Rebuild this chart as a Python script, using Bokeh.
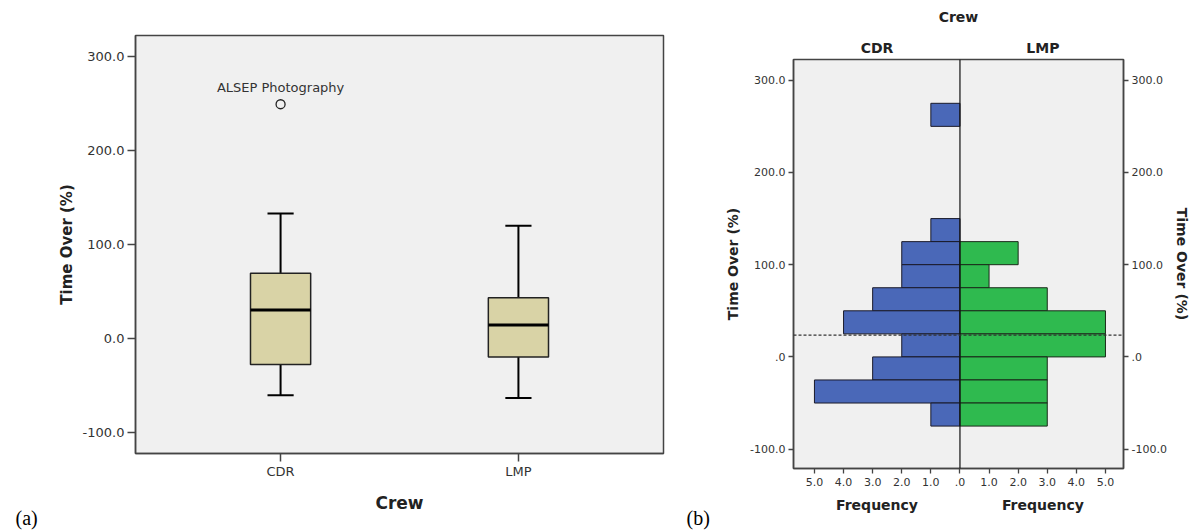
from bokeh.plotting import figure
from bokeh.models import LinearAxis, FixedTicker, Range1d, Label, Span, Spacer
from bokeh.layouts import row, column
from bokeh.embed import file_html
from bokeh.resources import INLINE

# ---------------- data ----------------
crew = ["CDR", "LMP"]
crew_pos = [1, 2]
q1 = [-27.5, -19.5]
median = [30.5, 14.5]
q3 = [69.5, 43.5]
whisk_lo = [-60.0, -63.0]
whisk_hi = [133.0, 120.0]
outlier_pos = [1]
outlier_val = [249.0]
outlier_label = ["ALSEP Photography"]

bin_width = 25
cdr_bin_start = [250, 125, 100, 75, 50, 25, 0, -25, -50, -75]
cdr_freq = [1, 1, 2, 2, 3, 4, 2, 3, 5, 1]
lmp_bin_start = [100, 75, 50, 25, 0, -25, -50, -75]
lmp_freq = [2, 1, 3, 5, 5, 3, 3, 3]
mean_time_over = 23.6

y_ticks_a = [-100, 0, 100, 200, 300]
y_labels_a = ["-100.0", "0.0", "100.0", "200.0", "300.0"]
y_labels_b = ["-100.0", ".0", "100.0", "200.0", "300.0"]
freq_ticks = [-5, -4, -3, -2, -1, 0, 1, 2, 3, 4, 5]
freq_labels = ["5.0", "4.0", "3.0", "2.0", "1.0", ".0", "1.0", "2.0", "3.0", "4.0", "5.0"]

FONT = "DejaVu Sans"
BG = "#f0f0f0"
AX = "#444444"
TXT = "#333333"
H = 530


def tag_fig(text, w, x):
    f = figure(width=w, height=27, x_range=Range1d(0, w), y_range=Range1d(0, 27),
               output_backend="svg", toolbar_location=None, min_border=0,
               x_axis_location=None, y_axis_location=None)
    f.xgrid.visible = False
    f.ygrid.visible = False
    f.outline_line_color = None
    f.background_fill_color = "white"
    f.border_fill_color = "white"
    f.add_layout(Label(x=x, y=13, text=text, text_font="Liberation Serif",
                       text_font_size="20px", text_baseline="middle",
                       text_align="left", text_color="black"))
    return f


# ---------------- (a) boxplot ----------------
p1 = figure(width=630, height=H, x_range=Range1d(0.39, 2.61), y_range=Range1d(-122, 322),
            output_backend="svg", toolbar_location=None,
            min_border_left=85, min_border_right=17, min_border_top=35, min_border_bottom=77)
p1.background_fill_color = BG
p1.border_fill_color = "white"
p1.outline_line_color = AX
p1.outline_line_width = 1.5
p1.xgrid.visible = False
p1.ygrid.visible = False

box_w = 0.253
cap_w = 0.11
x0 = [x - box_w / 2 for x in crew_pos]
x1 = [x + box_w / 2 for x in crew_pos]
c0 = [x - cap_w / 2 for x in crew_pos]
c1 = [x + cap_w / 2 for x in crew_pos]

p1.segment(x0=crew_pos, x1=crew_pos, y0=q3, y1=whisk_hi, line_color="black", line_width=2)
p1.segment(x0=crew_pos, x1=crew_pos, y0=q1, y1=whisk_lo, line_color="black", line_width=2)
p1.segment(x0=c0, x1=c1, y0=whisk_hi, y1=whisk_hi, line_color="black", line_width=2)
p1.segment(x0=c0, x1=c1, y0=whisk_lo, y1=whisk_lo, line_color="black", line_width=2)
p1.vbar(x=crew_pos, width=box_w, bottom=q1, top=q3, fill_color="#d9d3a6",
        line_color="#222222", line_width=1.5)
p1.segment(x0=x0, x1=x1, y0=median, y1=median, line_color="black", line_width=3)
p1.scatter(x=outlier_pos, y=outlier_val, marker="circle", size=9, fill_color=BG,
           line_color="#222222", line_width=1.3)
p1.text(x=outlier_pos, y=outlier_val, text=outlier_label, text_align="center",
        text_baseline="bottom", y_offset=-9, text_font_size="13px", text_color=TXT,
        text_font={"value": FONT})

for ax in (p1.xaxis[0], p1.yaxis[0]):
    ax.axis_line_color = AX
    ax.axis_line_width = 1.5
    ax.major_tick_line_color = AX
    ax.major_tick_line_width = 1.5
    ax.minor_tick_line_color = None
    ax.major_tick_in = 0
    ax.major_label_text_font = FONT
    ax.major_label_text_color = TXT
    ax.major_label_text_font_size = "13px"
    ax.axis_label_text_font = FONT
    ax.axis_label_text_font_style = "bold"
    ax.axis_label_text_color = "#222222"

p1.xaxis.ticker = FixedTicker(ticks=crew_pos)
p1.xaxis.major_label_overrides = {k: v for k, v in zip(crew_pos, crew)}
p1.xaxis.major_tick_out = 8
p1.xaxis.major_label_standoff = 2
p1.xaxis.axis_label = "Crew"
p1.xaxis.axis_label_text_font_size = "17px"
p1.xaxis.axis_label_standoff = 11

p1.yaxis.ticker = FixedTicker(ticks=y_ticks_a)
p1.yaxis.major_label_overrides = {k: v for k, v in zip(y_ticks_a, y_labels_a)}
p1.yaxis.major_tick_out = 8
p1.yaxis.major_label_standoff = 3
p1.yaxis.axis_label = "Time Over (%)"
p1.yaxis.axis_label_text_font_size = "15px"
p1.yaxis.axis_label_standoff = 4

# ---------------- (b) back-to-back histogram ----------------
p2 = figure(width=474, height=H, x_range=Range1d(-5.72, 5.62), y_range=Range1d(-121, 322.5),
            output_backend="svg", toolbar_location=None,
            min_border_left=73, min_border_right=71, min_border_top=59, min_border_bottom=62)
p2.background_fill_color = BG
p2.border_fill_color = "white"
p2.outline_line_color = AX
p2.outline_line_width = 1.5
p2.xgrid.visible = False
p2.ygrid.visible = False

cdr_top = [b + bin_width for b in cdr_bin_start]
cdr_left = [-f for f in cdr_freq]
lmp_top = [b + bin_width for b in lmp_bin_start]
p2.quad(left=cdr_left, right=0, bottom=cdr_bin_start, top=cdr_top,
        fill_color="#4a68b8", line_color="#1a1a2a", line_width=1)
p2.quad(left=0, right=lmp_freq, bottom=lmp_bin_start, top=lmp_top,
        fill_color="#2fba4f", line_color="#1a2a1a", line_width=1)
p2.add_layout(Span(location=0, dimension="height", line_color="#111111", line_width=1.2))
p2.add_layout(Span(location=mean_time_over, dimension="width", line_color="#333333",
                   line_width=1.3, line_dash="3 2"))


def style(ax, size="11px"):
    ax.axis_line_color = AX
    ax.axis_line_width = 1.5
    ax.major_tick_line_color = AX
    ax.major_tick_line_width = 1.3
    ax.minor_tick_line_color = None
    ax.major_tick_in = 0
    ax.major_tick_out = 5
    ax.major_label_standoff = 3
    ax.major_label_text_font = FONT
    ax.major_label_text_color = TXT
    ax.major_label_text_font_size = size
    ax.axis_label_text_font = FONT
    ax.axis_label_text_font_style = "bold"
    ax.axis_label_text_color = "#222222"
    ax.axis_label_text_font_size = "14px"


style(p2.xaxis[0])
p2.xaxis.ticker = FixedTicker(ticks=freq_ticks)
p2.xaxis.major_label_overrides = {k: v for k, v in zip(freq_ticks, freq_labels)}
p2.xaxis.major_label_standoff = 4

freq_ax = LinearAxis(ticker=FixedTicker(ticks=[-2.85, 2.85]),
                     major_label_overrides={-2.85: "Frequency", 2.85: "Frequency"})
style(freq_ax, "14px")
freq_ax.major_label_text_font_style = "bold"
freq_ax.major_label_text_color = "#222222"
freq_ax.axis_line_color = None
freq_ax.major_tick_line_color = None
freq_ax.major_tick_out = 0
freq_ax.major_label_standoff = 8
p2.add_layout(freq_ax, "below")

top_ax = LinearAxis(ticker=FixedTicker(ticks=[-2.85, 2.85]),
                    major_label_overrides={-2.85: "CDR", 2.85: "LMP"}, axis_label="Crew")
style(top_ax, "14px")
top_ax.major_label_text_font_style = "bold"
top_ax.major_label_text_color = "#222222"
top_ax.axis_line_color = None
top_ax.major_tick_line_color = None
top_ax.major_tick_out = 0
top_ax.major_label_standoff = 4
top_ax.axis_label_standoff = 12
p2.add_layout(top_ax, "above")

style(p2.yaxis[0])
p2.yaxis.ticker = FixedTicker(ticks=y_ticks_a)
p2.yaxis.major_label_overrides = {k: v for k, v in zip(y_ticks_a, y_labels_b)}
p2.yaxis.axis_label = "Time Over (%)"
p2.yaxis.axis_label_standoff = 6

right_ax = LinearAxis(ticker=FixedTicker(ticks=y_ticks_a),
                      major_label_overrides={k: v for k, v in zip(y_ticks_a, y_labels_b)},
                      axis_label="Time Over (%)")
style(right_ax)
right_ax.axis_label_standoff = 4
p2.add_layout(right_ax, "right")

# ---------------- panel tags ----------------
col_a = column(Spacer(width=50, height=H - 27), tag_fig("(a)", 50, 15))
col_b = column(Spacer(width=40, height=H - 27), tag_fig("(b)", 40, 6))

layout = row(col_a, column(p1), col_b, column(p2))
open("out.html", "w").write(file_html(layout, INLINE))
